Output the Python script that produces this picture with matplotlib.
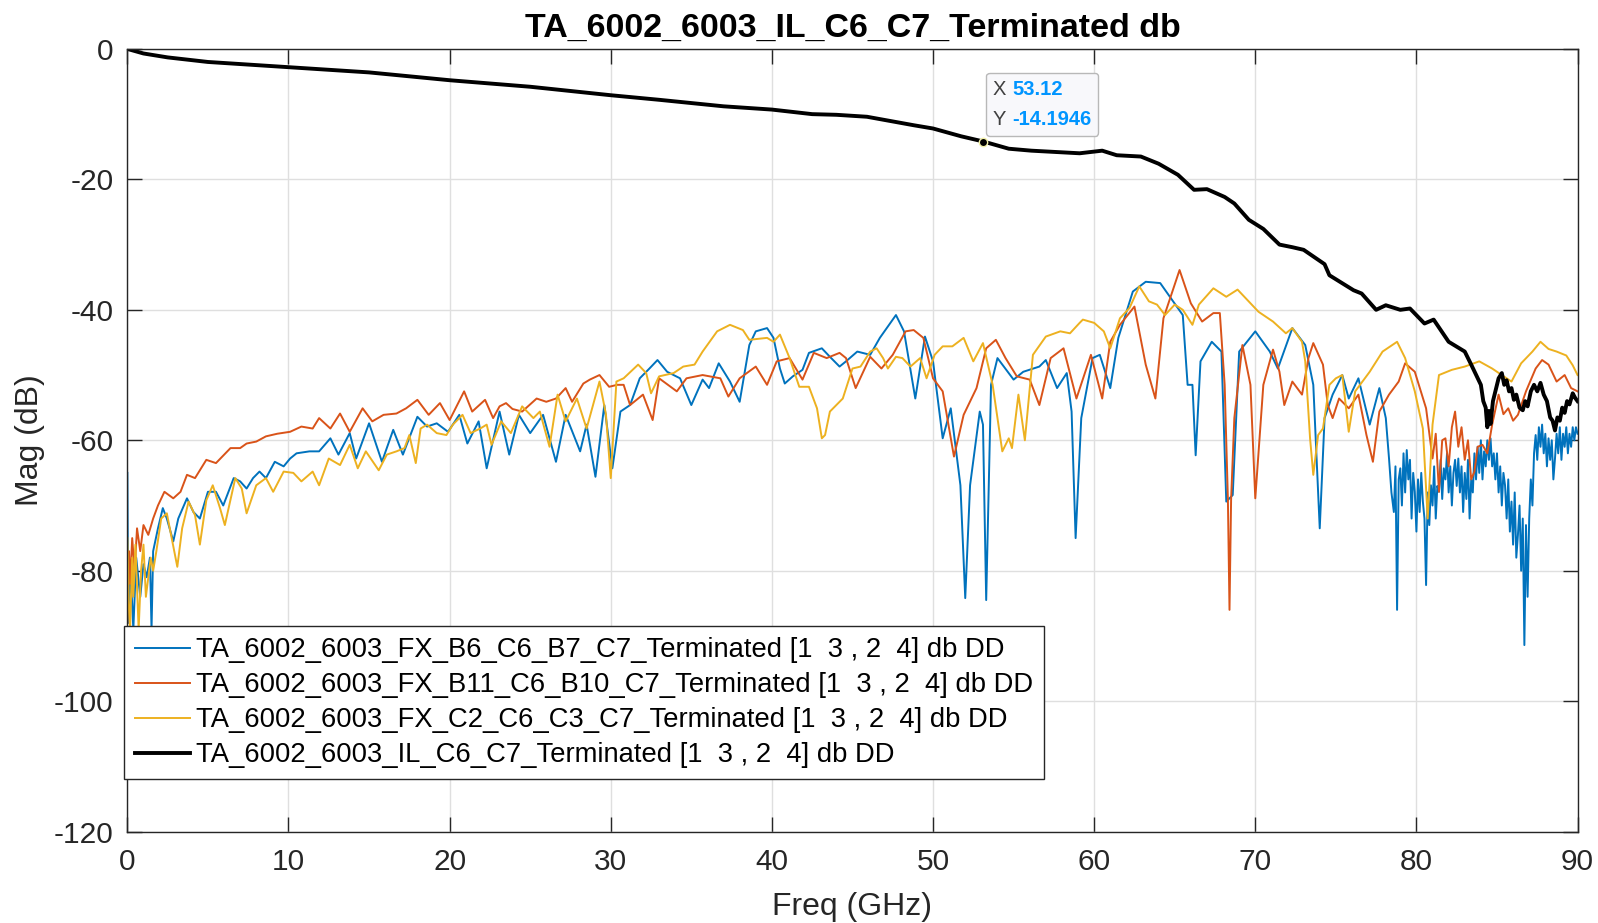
import matplotlib
matplotlib.use("Agg")
import matplotlib.pyplot as plt
from matplotlib.offsetbox import TextArea, HPacker, VPacker, AnnotationBbox

plt.rcParams["font.family"] = ["Liberation Sans", "DejaVu Sans"]
plt.rcParams["axes.unicode_minus"] = False

# ---- data (frequency in GHz, magnitude in dB) ----
b6_f = [0, 0.05, 0.2, 0.37, 0.55, 0.8, 1.0, 1.2, 1.4, 1.5, 1.6, 1.9, 2.2, 2.45, 2.85, 3.16, 3.7, 4.1, 4.5,
        5.0, 5.5, 5.95, 6.6, 7.0, 7.4, 7.8, 8.2, 8.6, 9.15, 9.7, 10.1, 10.5, 11.3, 11.9, 12.6, 13.1, 13.8,
        14.2, 15.0, 15.8, 16.5, 17.1, 18.0, 18.6, 19.2, 19.9, 20.6, 21.1, 21.8, 22.3, 23.1, 23.7, 24.3,
        25.0, 25.8, 26.6, 27.2, 28.1, 28.5, 29.05, 29.6, 30.1, 30.6, 31.2, 31.8, 32.4, 32.9, 33.5, 34.3,
        35.0, 35.7, 36.1, 36.7, 37.4, 38.0, 38.6, 39.0, 39.7, 40.1, 40.5, 40.8, 41.3, 41.9, 42.3, 43.1,
        43.6, 44.2, 44.6, 45.3, 46.1, 46.7, 47.7, 48.2, 48.9, 49.5, 50.0, 50.6, 51.1, 51.7, 52.0, 52.3,
        52.9, 53.1, 53.3, 53.6, 54.0, 55.0, 55.6, 56.6, 57.0, 57.7, 58.3, 58.6, 58.85, 59.2, 59.9, 60.35,
        61.0, 61.5, 62.4, 63.2, 64.1, 64.9, 65.5, 65.8, 66.1, 66.3, 66.6, 67.3, 67.9, 68.2, 68.6, 69.0,
        70.0, 70.9, 71.4, 72.3, 73.1, 73.6, 74.0, 74.3, 74.8, 75.4, 75.8, 76.4, 77.1, 77.7, 78.1,
        78.3, 78.45, 78.6, 78.7, 78.8, 78.9, 79.0, 79.1, 79.2, 79.3, 79.4, 79.5, 79.6, 79.7, 79.8, 79.9,
        80.0, 80.1, 80.2, 80.3, 80.4, 80.5, 80.6, 80.7, 80.8, 80.9, 81.0, 81.1, 81.2, 81.3, 81.4, 81.5,
        81.6, 81.7, 81.8, 81.9, 82.0, 82.1, 82.2, 82.3, 82.4, 82.5, 82.6, 82.7, 82.8, 82.9, 83.0, 83.1,
        83.2, 83.3, 83.4, 83.5, 83.6, 83.7, 83.8, 83.9, 84.0, 84.1, 84.2, 84.3, 84.4, 84.5, 84.6, 84.7,
        84.8, 84.9, 85.0, 85.1, 85.2, 85.3, 85.4, 85.5, 85.6, 85.7, 85.8, 85.9, 86.0, 86.1, 86.2, 86.3,
        86.4, 86.5, 86.6, 86.7, 86.8, 86.9, 87.0, 87.1, 87.2, 87.3, 87.4, 87.5, 87.6, 87.7, 87.8, 87.9,
        88.0, 88.1, 88.2, 88.3, 88.4, 88.5, 88.6, 88.7, 88.8, 88.9, 89.0, 89.1, 89.2, 89.3, 89.4, 89.5,
        89.6, 89.7, 89.8, 89.9, 90.0]
b6_db = [-65, -88, -80, -89, -78, -84, -79, -81, -78, -89, -77, -73.5, -70.4, -72, -75.5, -72, -68.9, -71, -72,
         -67.9, -67.9, -70, -65.8, -66.3, -67.4, -65.8, -64.8, -65.8, -63.3, -64, -62.8, -62, -61.7, -61.7,
         -59.7, -62.2, -58.9, -62.8, -57.4, -63.3, -58.4, -62.2, -56.4, -57.9, -57.4, -58.7, -56.1, -60.5,
         -57.1, -64.3, -55.6, -62.2, -56.1, -58.9, -56.1, -63.3, -56.1, -61.7, -57.6, -65.6, -54.6, -64.3,
         -55.6, -54.6, -50.5, -49, -47.7, -49.5, -50.5, -54.6, -50.7, -52, -48.2, -51, -54.1, -45.4, -43.3,
         -42.8, -44.3, -49, -51.3, -50.2, -49.2, -46.6, -45.9, -47.2, -48.7, -47.9, -46.4, -46.9, -44.3,
         -40.8, -43.3, -53.6, -44.1, -47.9, -59.7, -55.1, -66.9, -84.2, -66.9, -55.6, -57.6, -84.5, -51.5,
         -47.4, -50.7, -49.5, -48.7, -47.7, -52, -49.7, -55.6, -75, -56.6, -47.4, -46.9, -52, -44.3, -37.2,
         -35.7, -35.9, -38.7, -40.8, -51.5, -51.5, -62.3, -47.9, -44.9, -46.4, -69.4, -68.4, -46.4, -43.3,
         -46.4, -49, -42.8, -45.4, -51.5, -73.5, -56.6, -53, -50, -53.6, -50.5, -57.6, -52, -56.6,
         -62.8, -68, -71, -64, -86, -66, -64.3, -70, -62, -68, -61.5, -66, -63, -72, -65, -67.9,
         -74, -66, -71, -65, -69.4, -72, -82.2, -68, -73, -66.9, -70, -64, -72, -67, -67.9, -63,
         -69, -64.3, -66, -62, -68, -64, -70, -65, -63, -67, -62.8, -68, -64, -71, -65, -69,
         -63, -72, -66, -68, -62, -66, -61, -65, -60, -66, -61.7, -64, -60, -63, -59.7, -64,
         -62, -66, -62, -68, -64, -70, -65, -66.9, -72, -66, -74, -69.4, -76, -68, -78, -74.5,
         -70, -80, -72, -91.4, -73, -84, -72, -66, -70, -62, -59.2, -63, -58, -61, -57.6, -62,
         -59, -64, -59.7, -63, -60, -66, -62.8, -59, -62, -58, -63, -59, -61, -58, -62, -59,
         -61, -58, -60, -58, -59]

b11_f = [0, 0.1, 0.17, 0.3, 0.45, 0.6, 0.8, 1.0, 1.3, 1.6, 1.9, 2.3, 2.85, 3.3, 3.7, 4.2, 4.9, 5.5, 6.4, 7.0,
         7.4, 8.0, 8.6, 9.3, 10.1, 10.8, 11.5, 11.9, 12.6, 13.2, 13.8, 14.6, 15.2, 15.9, 16.7, 17.3, 18.0,
         18.7, 19.4, 20.0, 20.9, 21.4, 22.2, 22.7, 23.1, 23.5, 23.9, 24.5, 25.4, 26.0, 26.6, 27.2, 27.6,
         28.3, 28.7, 29.3, 29.9, 30.4, 30.8, 31.2, 32.0, 32.6, 33.0, 34.1, 34.7, 35.7, 36.8, 37.3, 38.0,
         39.0, 39.7, 40.3, 41.1, 41.9, 42.6, 43.4, 44.2, 44.6, 45.2, 46.1, 46.8, 47.5, 48.3, 48.8, 49.4,
         50.0, 50.6, 51.0, 51.3, 51.9, 52.7, 53.3, 53.9, 54.5, 55.2, 56.0, 56.6, 57.3, 58.1, 58.9, 59.8,
         60.5, 61.0, 61.6, 62.5, 63.2, 63.8, 64.3, 65.3, 66.0, 66.7, 67.4, 67.8, 68.1, 68.3, 68.4, 68.5,
         68.7, 69.2, 69.7, 70.0, 70.5, 71.1, 71.5, 71.8, 72.3, 72.9, 73.3, 73.6, 74.2, 74.5, 74.8, 75.2,
         75.8, 76.4, 76.9, 77.3, 77.7, 78.3, 78.9, 79.3, 79.9, 80.6, 81.0, 81.2, 81.4, 81.6, 81.8, 82.0,
         82.2, 82.4, 82.6, 82.8, 83.0, 83.2, 83.4, 83.6, 83.8, 84.1, 84.4, 84.7, 85.1, 85.4, 85.7, 86.0,
         86.3, 86.8, 87.4, 87.8, 88.2, 88.7, 89.2, 89.6, 90.0]
b11_db = [-88, -77, -82, -75, -80, -73.5, -77, -73, -74.5, -72, -70, -67.9, -68.9, -67.9, -65.3, -65.8, -63,
          -63.5, -61.2, -61.2, -60.5, -60.2, -59.4, -59, -58.7, -57.9, -58.2, -56.6, -58.2, -55.9, -58.7,
          -55.1, -57.1, -56.1, -55.9, -55.1, -53.8, -56.1, -54.3, -56.9, -52.5, -55.6, -53.8, -56.6, -54.8,
          -54.3, -55.2, -55.6, -53.6, -54.1, -53.6, -52, -54.1, -51.3, -50.7, -50, -51.8, -51.5, -51.5,
          -54.6, -53, -56.9, -50.5, -52.5, -50.5, -50, -50.5, -53.3, -50.5, -48.7, -51.5, -47.9, -47.4,
          -50.7, -46.6, -47.4, -46.6, -47.4, -52, -47.2, -49, -46.9, -43.3, -43.1, -44.3, -50.5, -52.5,
          -58.2, -62.5, -56.1, -52, -45.9, -44.6, -47.4, -50.2, -50.7, -54.6, -47.4, -45.9, -53.6, -46.9,
          -53.6, -44.9, -42.3, -39.5, -48.4, -53.6, -41.3, -33.9, -39, -41.8, -40.5, -40.5, -51.5, -69,
          -86, -69, -56.6, -45.4, -51.5, -68.9, -51.5, -46.1, -49.5, -54.6, -51, -53, -47.4, -45.1, -48.4,
          -54.6, -56.6, -53.6, -55.1, -53, -59.2, -63.3, -55.6, -53, -51, -48.2, -49.5, -55.1, -62.8, -59,
          -67.9, -60, -59.7, -64, -58, -55.6, -61, -58, -63, -60, -66, -64.8, -61, -60.7, -62, -57.6, -53,
          -56, -55.1, -57, -56.1, -52.5, -49, -47.7, -48.4, -51, -50, -52, -52.5]

c2_f = [0, 0.1, 0.17, 0.3, 0.37, 0.5, 0.7, 0.85, 1.0, 1.15, 1.3, 1.45, 1.6, 1.8, 2.1, 2.45, 2.75, 3.1, 3.4,
        3.8, 4.2, 4.5, 4.9, 5.3, 5.75, 6.05, 6.7, 7.1, 7.4, 8.0, 8.6, 9.05, 9.7, 10.3, 10.8, 11.5, 11.9,
        12.5, 13.2, 13.8, 14.3, 14.8, 15.6, 16.1, 16.7, 17.2, 17.5, 17.9, 18.2, 18.6, 19.2, 19.8, 20.2,
        20.8, 21.3, 21.9, 22.3, 22.6, 23.2, 23.8, 24.5, 25.2, 25.6, 26.2, 26.7, 27.2, 27.9, 28.5, 29.3,
        29.7, 30.0, 30.35, 30.8, 31.7, 32.2, 32.5, 33.0, 33.9, 34.5, 35.2, 35.7, 36.6, 37.4, 38.2, 38.6,
        39.7, 40.1, 40.5, 41.1, 41.7, 42.3, 42.8, 43.1, 43.3, 43.6, 44.4, 45.0, 45.5, 46.1, 46.5, 46.9,
        47.2, 47.7, 48.1, 48.6, 49.2, 49.6, 50.1, 50.6, 51.2, 51.9, 52.5, 53.1, 53.7, 54.3, 54.7, 54.9,
        55.3, 55.7, 56.2, 57.0, 57.9, 58.5, 59.1, 59.3, 60.0, 60.6, 61.0, 61.6, 62.2, 62.8, 63.4, 63.9,
        64.4, 65.0, 65.5, 66.1, 66.5, 67.4, 68.2, 68.9, 69.4, 70.2, 71.1, 71.9, 72.3, 72.9, 73.1, 73.4,
        73.6, 73.9, 74.2, 74.6, 75.0, 75.4, 75.8, 76.2, 77.1, 77.9, 78.8, 79.3, 79.9, 80.4, 80.7, 81.0,
        81.4, 82.2, 83.0, 83.9, 84.7, 85.3, 85.9, 86.5, 87.2, 87.7, 88.2, 88.7, 89.3, 89.7, 90.0]
c2_db = [-75, -86, -89, -78, -84, -76, -89, -80, -76, -84, -81, -78, -80, -77, -72, -71.2, -75, -79.4, -73.5,
         -69.4, -71.5, -76, -69.2, -66.9, -70.4, -73, -65.8, -67.4, -71.2, -66.9, -65.8, -67.9, -64.8, -65,
         -66.3, -64.8, -66.9, -62.8, -63.8, -60.7, -64.3, -61.7, -64.6, -62.2, -61.7, -61.2, -59.2, -63.5,
         -58.2, -57.6, -58.9, -59.2, -57.6, -56.1, -58.9, -58.2, -57.6, -60.7, -57.1, -58.9, -54.8, -56.6,
         -55.6, -61, -53, -57.1, -53.6, -58.2, -51, -56, -65.8, -51, -50.5, -48.4, -49.7, -52.8, -50.2,
         -49.7, -48.7, -48.4, -46.4, -43.3, -42.3, -43.1, -44.6, -44.3, -44.9, -43.8, -47.4, -51.8, -51.8,
         -55.1, -59.7, -59.2, -55.6, -53.6, -49, -48.7, -46.4, -45.9, -47.4, -49, -47.2, -47.4, -48.7,
         -47.4, -50.5, -46.9, -45.6, -45.6, -44.3, -47.9, -45.1, -51.5, -61.7, -59.7, -61.2, -53, -60,
         -46.9, -44.1, -43.3, -43.6, -42, -41.5, -42, -43.3, -45.9, -41.3, -39.7, -36.4, -38.7, -39.2,
         -40.8, -39.2, -40, -42.3, -39.2, -36.7, -38, -36.9, -38.2, -40.3, -41.8, -43.6, -42.8, -44.9,
         -47.9, -59.7, -65.3, -59.2, -58.2, -51.5, -50.5, -50, -58.7, -52.5, -49.5, -46.4, -44.9, -47.4,
         -52.5, -58.2, -72, -57.6, -50, -49.2, -48.7, -47.9, -49, -50, -51, -48.2, -46.4, -44.9, -46,
         -46.4, -47, -48.5, -50]

il_f = [0, 1, 2.5, 5, 10, 15, 20, 25, 30, 33, 35, 37, 40, 42.5, 44, 45.9, 48.8, 50, 51.75, 53.12, 54.7,
        56.1, 57.6, 59.1, 60.5, 61.4, 62.9, 64.0, 65.2, 66.2, 67.0, 68.1, 68.7, 69.6, 70.5, 71.5, 72.3,
        73.0, 74.3, 74.6, 76.1, 76.6, 77.5, 78.1, 79.0, 79.6, 80.5, 81.07, 82.0, 83.0, 83.4, 84.0, 84.15,
        84.3, 84.4, 84.5, 84.6, 84.75, 84.9, 85.1, 85.3, 85.45, 85.6, 85.75, 85.9, 86.05, 86.2, 86.4, 86.6,
        86.75, 86.9, 87.1, 87.3, 87.5, 87.7, 87.9, 88.1, 88.3, 88.45, 88.6, 88.75, 88.9, 89.05, 89.2, 89.35,
        89.5, 89.7, 89.85, 90.0]
il_db = [0, -0.7, -1.3, -2.0, -2.8, -3.6, -4.8, -5.8, -7.1, -7.8, -8.3, -8.8, -9.3, -10.0, -10.1, -10.4,
         -11.7, -12.2, -13.4, -14.19, -15.3, -15.6, -15.8, -16.0, -15.6, -16.3, -16.5, -17.6, -19.3, -21.6,
         -21.5, -22.7, -23.7, -26.2, -27.6, -30.0, -30.4, -30.8, -33.0, -34.7, -37.0, -37.5, -40.0, -39.3,
         -40.0, -39.8, -42.1, -41.5, -44.9, -46.4, -48.4, -51.5, -54, -55, -58, -55.5, -57.5, -54, -52.5,
         -50.5, -49.7, -51.5, -50.8, -52.5, -52, -53.8, -53, -55, -55.4, -54, -54.8, -52.5, -51.5, -52.5,
         -51.2, -53, -54, -56.5, -57, -58.5, -56.5, -57, -55, -55.8, -54, -54.5, -52.8, -53.5, -54]

labels = ["TA_6002_6003_FX_B6_C6_B7_C7_Terminated [1  3 , 2  4] db DD",
          "TA_6002_6003_FX_B11_C6_B10_C7_Terminated [1  3 , 2  4] db DD",
          "TA_6002_6003_FX_C2_C6_C3_C7_Terminated [1  3 , 2  4] db DD",
          "TA_6002_6003_IL_C6_C7_Terminated [1  3 , 2  4] db DD"]
tip_x, tip_y = 53.12, -14.1946

# ---- figure ----
fig = plt.figure(figsize=(15.98, 9.23), dpi=100)
ax = fig.add_axes([0.0797, 0.099, 0.9075, 0.848])

ax.plot(b6_f, b6_db, color="#0072BD", lw=1.4, label=labels[0])
ax.plot(b11_f, b11_db, color="#D95319", lw=1.4, label=labels[1])
ax.plot(c2_f, c2_db, color="#EDB120", lw=1.4, label=labels[2])
ax.plot(il_f, il_db, color="black", lw=2.8, label=labels[3])

ax.set_xlim(0, 90)
ax.set_ylim(-120, 0)
ax.set_xticks(range(0, 91, 10))
ax.set_yticks(range(-120, 1, 20))
ax.grid(True, color="#dfdfdf", lw=1)
ax.set_axisbelow(True)
ax.tick_params(direction="in", top=True, right=True, length=10.5, width=1,
               color="#262626", labelcolor="#262626", labelsize=21.5)
ax.tick_params(axis="x", pad=12)
ax.tick_params(axis="y", pad=10)
for s in ax.spines.values():
    s.set_color("#262626")
    s.set_linewidth(1)

ax.set_xlabel("Freq (GHz)", fontsize=23, color="#262626", labelpad=11)
ax.set_ylabel("Mag (dB)", fontsize=23, color="#262626", labelpad=6)
ax.set_title("TA_6002_6003_IL_C6_C7_Terminated db", fontsize=24.5, fontweight="bold",
             family=["Liberation Sans Narrow", "Liberation Sans"], pad=9)

leg = ax.legend(loc="lower left", bbox_to_anchor=(-0.002, 0.067), borderaxespad=0,
                fontsize=19.7, frameon=True, fancybox=False, framealpha=1,
                handlelength=2.0, handletextpad=0.2, labelspacing=0.33, borderpad=0.4)
leg.get_frame().set_edgecolor("#262626")
leg.get_frame().set_linewidth(1)

# data tip
ax.plot(tip_x, tip_y, "o", ms=6, mfc="black", mec="#f2f0a8", mew=1, zorder=5)
tp_lab = dict(color="#404040", fontsize=14.5)
tp_val = dict(color="#0095FF", fontsize=14.5, fontweight="bold")
row1 = HPacker(children=[TextArea("X", textprops=tp_lab), TextArea(f"{tip_x:.2f}", textprops=tp_val)],
               sep=4, align="baseline")
row2 = HPacker(children=[TextArea("Y", textprops=tp_lab), TextArea(f"{tip_y:.4f}", textprops=tp_val)],
               sep=4, align="baseline")
box = VPacker(children=[row1, row2], sep=8, align="left")
ab = AnnotationBbox(box, (tip_x, tip_y), xybox=(7, 9), xycoords="data", boxcoords="offset points",
                    box_alignment=(0, 0), pad=0.5,
                    bboxprops=dict(boxstyle="round,pad=0.5,rounding_size=0.25", fc="#f8f8fb",
                                   ec="#b8b8b8", lw=1))
ax.add_artist(ab)

fig.savefig("out.png", dpi=100)
